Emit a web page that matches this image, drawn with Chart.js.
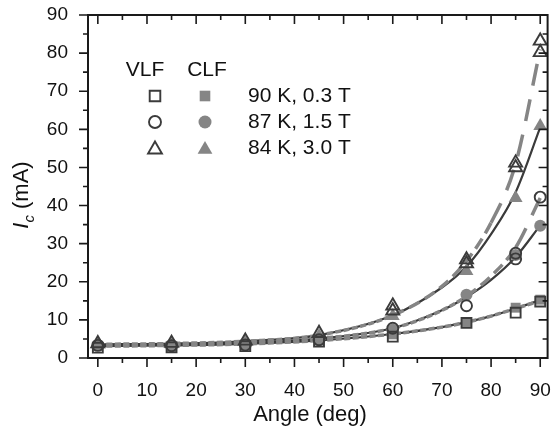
<!DOCTYPE html>
<html>
<head>
<meta charset="utf-8">
<script src="https://cdn.jsdelivr.net/npm/chart.js"></script>
<style>
  html, body { margin: 0; padding: 0; background: #fff; }
  #wrap { width: 557px; height: 432px; }
</style>
</head>
<body>
<div id="wrap"><canvas id="icChart"></canvas></div>
<script>
// measured points, angle in deg, Ic in mA (VLF repeats some angles)
const angles = [0, 15, 30, 45, 60, 75, 85, 90];
const vlfSquareAngle = [0, 15, 30, 45, 60, 75, 85, 90];
const vlfSquare = [2.7, 2.8, 3.1, 4.3, 5.6, 9.2, 11.9, 14.8];
const clfSquare = [3.2, 3.2, 3.5, 4.8, 6.2, 9.3, 13.2, 15.3];
const vlfCircleAngle = [0, 15, 30, 45, 60, 75, 85, 85, 90];
const vlfCircle = [3.3, 3.2, 3.4, 4.8, 7.8, 13.7, 27.5, 26.0, 42.2];
const clfCircle = [3.4, 3.4, 3.8, 5.0, 7.4, 16.6, 27.0, 34.7];
const vlfTriangleAngle = [0, 15, 30, 45, 60, 60, 75, 75, 85, 85, 90, 90];
const vlfTriangle = [3.8, 3.9, 4.5, 6.5, 13.7, 12.4, 25.8, 24.8, 51.2, 50.0, 83.2, 80.2];
const clfTriangle = [3.6, 3.6, 4.2, 5.8, 11.0, 22.8, 42.0, 60.9];

// fitted curves
const fitAngles = [0, 15, 30, 45, 60, 70, 75, 80, 85, 90];
const fitSquareClf = [3.1, 3.3, 3.7, 4.6, 6.3, 8.1, 9.4, 11.0, 13.0, 15.2];
const fitSquareVlf = [3.1, 3.3, 3.7, 4.6, 6.3, 8.1, 9.4, 11.0, 13.0, 15.0];
const fitCircleClf = [3.3, 3.5, 4.0, 5.1, 7.8, 12.5, 16.0, 20.5, 26.5, 34.8];
const fitCircleVlf = [3.3, 3.5, 4.0, 5.1, 7.8, 12.5, 16.2, 21.5, 29.0, 42.0];
const fitTriangleClf = [3.6, 3.8, 4.4, 6.0, 11.2, 18.5, 24.0, 32.5, 43.5, 60.5];
const fitTriangleVlf = [3.6, 3.8, 4.4, 6.0, 11.2, 18.8, 25.5, 35.5, 51.0, 81.0];

// axes
const xMajor = [0, 10, 20, 30, 40, 50, 60, 70, 80, 90];
const xMinor = [5, 15, 25, 35, 45, 55, 65, 75, 85];
const yMajor = [0, 10, 20, 30, 40, 50, 60, 70, 80, 90];
const yMinor = [5, 15, 25, 35, 45, 55, 65, 75, 85];
const legendRows = ['90 K, 0.3 T', '87 K, 1.5 T', '84 K, 3.0 T'];

const DARK = '#3b3b3b';
const GRAY = '#858585';
const FONT = '"Liberation Sans", Arial, sans-serif';

const pts = (xs, ys) => xs.map((x, i) => ({ x, y: ys[i] }));

function marker(label, xs, ys, style, radius, open) {
  return {
    label, data: pts(xs, ys), showLine: false, order: open ? 0 : 1, clip: false,
    pointStyle: style, pointRadius: radius, pointHoverRadius: radius,
    pointBorderWidth: open ? 1.9 : 0,
    pointBorderColor: open ? DARK : GRAY,
    pointBackgroundColor: open ? 'rgba(0,0,0,0)' : GRAY
  };
}

// long dashes on steep stretches, short ones where the curve is flat
const dashBySlope = c => {
  const dy = Math.abs(c.p1.y - c.p0.y);
  return dy > 45 ? [22, 14] : dy > 20 ? [12, 6] : [6, 2.5];
};

function fit(label, ys, dashed) {
  return {
    label, data: pts(fitAngles, ys), showLine: true, order: dashed ? 2 : 3,
    pointRadius: 0, pointHoverRadius: 0, cubicInterpolationMode: 'monotone',
    borderColor: dashed ? GRAY : DARK, borderWidth: dashed ? 3.5 : 2.2,
    segment: dashed ? { borderDash: dashBySlope } : undefined
  };
}

const sets = [
  marker('VLF 90 K', vlfSquareAngle, vlfSquare, 'rect', 7, true),
  marker('VLF 87 K', vlfCircleAngle, vlfCircle, 'circle', 5.5, true),
  marker('VLF 84 K', vlfTriangleAngle, vlfTriangle, 'triangle', 7.5, true),
  marker('CLF 90 K', angles, clfSquare, 'rect', 7, false),
  marker('CLF 87 K', angles, clfCircle, 'circle', 6, false),
  marker('CLF 84 K', angles, clfTriangle, 'triangle', 8, false),
  fit('fit CLF 90 K', fitSquareClf, false),
  fit('fit VLF 90 K', fitSquareVlf, true),
  fit('fit CLF 87 K', fitCircleClf, false),
  fit('fit VLF 87 K', fitCircleVlf, true),
  fit('fit CLF 84 K', fitTriangleClf, false),
  fit('fit VLF 84 K', fitTriangleVlf, true)
];

const frameAndText = {
  id: 'frameAndText',
  afterDraw(chart) {
    const { ctx, chartArea: a, scales: { x, y } } = chart;
    ctx.save();
    // frame and ticks
    ctx.strokeStyle = '#1a1a1a';
    ctx.lineWidth = 2;
    ctx.strokeRect(a.left, a.top, a.right - a.left, a.bottom - a.top);
    ctx.lineWidth = 1.6;
    ctx.beginPath();
    const tick = (v, len) => {
      const px = x.getPixelForValue(v);
      ctx.moveTo(px, a.bottom); ctx.lineTo(px, a.bottom + len);
      ctx.moveTo(px, a.top); ctx.lineTo(px, a.top + len);
      const py = y.getPixelForValue(v);
      ctx.moveTo(a.left, py); ctx.lineTo(a.left - len, py);
      ctx.moveTo(a.right, py); ctx.lineTo(a.right - len, py);
    };
    xMajor.forEach(v => tick(v, 9));
    xMinor.forEach(v => tick(v, 5));
    ctx.stroke();

    // axis titles
    ctx.fillStyle = '#111';
    ctx.font = '22px ' + FONT;
    ctx.textAlign = 'center';
    ctx.textBaseline = 'alphabetic';
    ctx.fillText('Angle (deg)', 310, 421);

    ctx.translate(28, 195);
    ctx.rotate(-Math.PI / 2);
    ctx.textAlign = 'left';
    const fI = 'italic 22px ' + FONT, fc = 'italic 15px ' + FONT, fr = '22px ' + FONT;
    ctx.font = fI; const wI = ctx.measureText('I').width;
    ctx.font = fc; const wc = ctx.measureText('c').width;
    ctx.font = fr; const wr = ctx.measureText(' (mA)').width;
    let sx = -(wI + wc + wr) / 2;
    ctx.font = fI; ctx.fillText('I', sx, 0); sx += wI;
    ctx.font = fc; ctx.fillText('c', sx, 6); sx += wc;
    ctx.font = fr; ctx.fillText(' (mA)', sx, 0);
    ctx.restore();

    // legend block
    ctx.save();
    ctx.fillStyle = '#111';
    ctx.font = '21px ' + FONT;
    ctx.textBaseline = 'middle';
    ctx.textAlign = 'center';
    ctx.fillText('VLF', 145, 70);
    ctx.fillText('CLF', 207, 70);
    ctx.textAlign = 'left';
    const rowY = [96, 122, 148];
    legendRows.forEach((t, i) => {
      const open = chart.data.datasets[i], fill = chart.data.datasets[i + 3];
      [[open, 155], [fill, 205]].forEach(([ds, lx]) => {
        ctx.strokeStyle = ds.pointBorderColor;
        ctx.fillStyle = ds.pointBackgroundColor;
        ctx.lineWidth = ds.pointBorderWidth;
        Chart.helpers.drawPoint(ctx, {
          pointStyle: ds.pointStyle, radius: ds.pointRadius + 0.5,
          borderWidth: ds.pointBorderWidth, rotation: 0
        }, lx, rowY[i] + (ds.pointStyle === 'triangle' ? 1.5 : 0));
      });
      ctx.fillStyle = '#111';
      ctx.fillText(t, 248, rowY[i]);
    });
    ctx.restore();
  }
};

new Chart(document.getElementById('icChart'), {
  type: 'scatter',
  data: { datasets: sets },
  plugins: [frameAndText],
  options: {
    responsive: true,
    maintainAspectRatio: false,
    animation: false,
    layout: { padding: { top: 15, right: 3, left: 0, bottom: 0 } },
    plugins: { legend: { display: false }, tooltip: { enabled: false } },
    scales: {
      x: {
        type: 'linear', min: -2, max: 91.5,
        afterBuildTicks: s => { s.ticks = xMajor.map(v => ({ value: v })); },
        afterFit: s => { s.height = 74; s.paddingLeft = 0; s.paddingRight = 0; },
        grid: { display: false }, border: { display: false },
        ticks: { color: '#111', padding: 13, font: { family: FONT, size: 19 } }
      },
      y: {
        type: 'linear', min: 0, max: 90,
        afterBuildTicks: s => { s.ticks = yMajor.map(v => ({ value: v })); },
        afterFit: s => { s.width = 88; s.paddingTop = 0; s.paddingBottom = 0; },
        grid: { display: false }, border: { display: false },
        ticks: { color: '#111', padding: 12, font: { family: FONT, size: 19 } }
      }
    }
  }
});
</script>
</body>
</html>
